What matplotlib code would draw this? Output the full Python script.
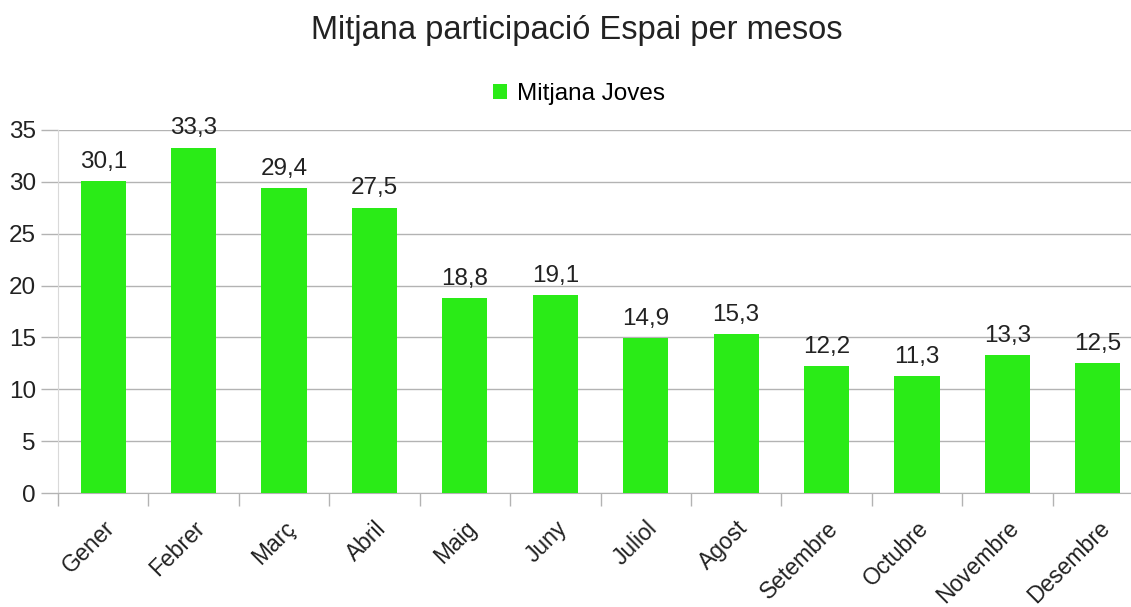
import numpy as np
import matplotlib
matplotlib.use("Agg")
import matplotlib.pyplot as plt

mesos = ["Gener", "Febrer", "Març", "Abril", "Maig", "Juny", "Juliol",
         "Agost", "Setembre", "Octubre", "Novembre", "Desembre"]
mitjana_joves = [30.1, 33.3, 29.4, 27.5, 18.8, 19.1, 14.9, 15.3, 12.2, 11.3, 13.3, 12.5]
y_ticks = [0, 5, 10, 15, 20, 25, 30, 35]

plt.rcParams["font.family"] = ["Liberation Sans", "DejaVu Sans"]

fig = plt.figure(figsize=(11.31, 6.07), dpi=100)
# plot area runs past the right edge, as in the original
ax = fig.add_axes([58 / 1131, 1 - 493 / 607, 1085 / 1131, 363 / 607])

x = np.arange(len(mesos))
bars = ax.bar(x, mitjana_joves, width=0.5, color="#2aeb17", label="Mitjana Joves", zorder=3)

for b, v in zip(bars, mitjana_joves):
    ax.text(b.get_x() + b.get_width() / 2, v + 0.8, f"{v:.1f}".replace(".", ","),
            ha="center", va="bottom", fontsize=17.5, color="#222222")

ax.set_xlim(-0.5, len(mesos) - 0.5)
ax.set_ylim(0, 35)
ax.set_yticks(y_ticks)
ax.tick_params(axis="y", labelsize=17.5, colors="#b3b3b3", labelcolor="#222222",
               length=12, width=1, pad=4)
ax.yaxis.grid(True, color="#b3b3b3", linewidth=1, zorder=0)

# ticks between categories, labels at centres
ax.set_xticks(np.arange(len(mesos) + 1) - 0.5)
ax.set_xticklabels([])
ax.set_xticks(x, minor=True)
ax.set_xticklabels(mesos, minor=True, rotation=45, ha="right", rotation_mode="anchor",
                   fontsize=16.5, color="#222222")
ax.tick_params(axis="x", which="major", colors="#b3b3b3", length=9, width=1)
ax.tick_params(axis="x", which="minor", length=0, pad=17)

for s in ["top", "right"]:
    ax.spines[s].set_visible(False)
ax.spines["left"].set_color("#d9d9d9")
ax.spines["bottom"].set_color("#b3b3b3")

fig.text(577 / 1131, 1 - 30 / 607, "Mitjana participació Espai per mesos", ha="center", va="center",
         fontsize=23.5, color="#222222")
fig.legend(loc="center", bbox_to_anchor=(579 / 1131, 1 - 94 / 607), frameon=False,
           fontsize=17.5, handlelength=0.6, handleheight=0.6, handletextpad=0.4)

fig.savefig("out.png", dpi=100)
